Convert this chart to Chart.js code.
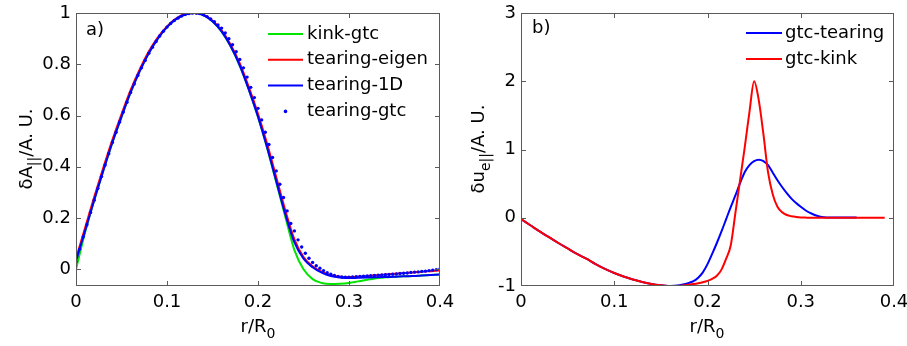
<!DOCTYPE html>
<html>
<head>
<meta charset="utf-8">
<title>δA|| and δue|| profiles</title>
<script src="https://cdn.jsdelivr.net/npm/chart.js@4.4.0/dist/chart.umd.min.js"></script>
<style>
  body { margin: 0; background: #fff; }
  #wrap { position: relative; width: 907px; height: 346px; overflow: hidden; background: #fff; }
  .panel { position: absolute; top: 0; height: 346px; }
  #panelA { left: 0; width: 470px; }
  #panelB { left: 453px; width: 454px; }
</style>
</head>
<body>
<div id="wrap">
  <div class="panel" id="panelA"><canvas id="chartA"></canvas></div>
  <div class="panel" id="panelB"><canvas id="chartB"></canvas></div>
</div>
<script>
// panel a) - radial grid of the line curves
const rLine = [0, 0.01, 0.02, 0.03, 0.04, 0.05, 0.06, 0.07, 0.08, 0.09,
  0.10, 0.11, 0.12, 0.13, 0.14, 0.15, 0.16, 0.17, 0.18, 0.19,
  0.20, 0.21, 0.22, 0.23, 0.24, 0.25, 0.26, 0.27, 0.28, 0.29,
  0.30, 0.31, 0.32, 0.33, 0.34, 0.35, 0.36, 0.37, 0.38, 0.39, 0.40];

const kinkGtc = [0.0, 0.145, 0.27, 0.385, 0.495, 0.595, 0.69, 0.774, 0.845, 0.902,
  0.946, 0.977, 0.995, 1.0, 0.992, 0.967, 0.927, 0.869, 0.794, 0.70,
  0.594, 0.473, 0.34, 0.205, 0.075, 0.0, -0.038, -0.053, -0.057, -0.056,
  -0.053, -0.047, -0.041, -0.035, -0.031, -0.029, -0.027, -0.026, -0.024, -0.022, -0.02];

const tearingEigen = [0.042, 0.162, 0.282, 0.396, 0.505, 0.605, 0.699, 0.78, 0.85, 0.905,
  0.948, 0.978, 0.996, 1.0, 0.993, 0.970, 0.932, 0.876, 0.803, 0.71,
  0.607, 0.49, 0.36, 0.23, 0.117, 0.048, 0.012, -0.010, -0.023, -0.029,
  -0.030, -0.029, -0.026, -0.023, -0.020, -0.017, -0.014, -0.012, -0.009, -0.007, -0.005];

const tearing1D = [0.032, 0.15, 0.27, 0.385, 0.495, 0.595, 0.69, 0.772, 0.843, 0.90,
  0.945, 0.976, 0.994, 1.0, 0.992, 0.968, 0.928, 0.87, 0.795, 0.70,
  0.595, 0.475, 0.345, 0.215, 0.105, 0.042, 0.008, -0.013, -0.026, -0.032,
  -0.034, -0.033, -0.032, -0.031, -0.030, -0.029, -0.027, -0.026, -0.024, -0.022, -0.02];

// gtc points (dots)
const rDot = [0, 0.004, 0.008, 0.012, 0.016, 0.020, 0.024, 0.028, 0.032, 0.036,
  0.040, 0.044, 0.048, 0.052, 0.056, 0.060, 0.064, 0.068, 0.072, 0.076,
  0.080, 0.084, 0.088, 0.092, 0.096, 0.100, 0.104, 0.108, 0.112, 0.116,
  0.120, 0.124, 0.128, 0.132, 0.136, 0.140, 0.144, 0.148, 0.152, 0.156,
  0.160, 0.164, 0.168, 0.172, 0.176, 0.180, 0.184, 0.188, 0.192, 0.196,
  0.200, 0.204, 0.208, 0.212, 0.216, 0.220, 0.224, 0.228, 0.232, 0.236,
  0.240, 0.244, 0.248, 0.252, 0.256, 0.260, 0.264, 0.268, 0.272, 0.276,
  0.280, 0.284, 0.288, 0.292, 0.296, 0.300, 0.304, 0.308, 0.312, 0.316,
  0.320, 0.324, 0.328, 0.332, 0.336, 0.340, 0.344, 0.348, 0.352, 0.356,
  0.360, 0.364, 0.368, 0.372, 0.376, 0.380, 0.384, 0.388, 0.392, 0.396, 0.400];

const tearingGtc = [0.03, 0.079, 0.127, 0.174, 0.222, 0.27, 0.316, 0.362, 0.407, 0.451,
  0.495, 0.535, 0.575, 0.614, 0.652, 0.69, 0.723, 0.756, 0.786, 0.815,
  0.843, 0.866, 0.889, 0.91, 0.929, 0.945, 0.959, 0.971, 0.98, 0.988,
  0.994, 0.998, 1.0, 1.0, 0.998, 0.993, 0.986, 0.977, 0.966, 0.953,
  0.941, 0.922, 0.90, 0.876, 0.849, 0.819, 0.786, 0.75, 0.71, 0.67,
  0.628, 0.583, 0.535, 0.487, 0.436, 0.384, 0.332, 0.28, 0.228, 0.179,
  0.15, 0.115, 0.087, 0.063, 0.043, 0.027, 0.014, 0.004, -0.005, -0.013,
  -0.019, -0.024, -0.028, -0.030, -0.031, -0.031, -0.030, -0.029, -0.028, -0.027,
  -0.026, -0.025, -0.024, -0.023, -0.022, -0.021, -0.020, -0.019, -0.018, -0.016,
  -0.015, -0.014, -0.012, -0.011, -0.010, -0.008, -0.007, -0.005, -0.003, -0.001, 0.002];

// panel b)
const rB = [0, 0.01, 0.02, 0.03, 0.04, 0.05, 0.06, 0.07, 0.08, 0.09,
  0.10, 0.11, 0.12, 0.13, 0.14, 0.15,
  0.155, 0.16, 0.165, 0.17, 0.175, 0.18, 0.185, 0.19, 0.195, 0.20,
  0.205, 0.21, 0.215, 0.22, 0.225, 0.23, 0.235, 0.24, 0.245, 0.25,
  0.255, 0.26, 0.265, 0.27, 0.275, 0.28, 0.285, 0.29, 0.295, 0.30,
  0.305, 0.31, 0.315, 0.32, 0.325, 0.33,
  0.34, 0.35, 0.36, 0.37, 0.38, 0.39];

const gtcTearing = [-0.02, -0.11, -0.20, -0.285, -0.37, -0.45, -0.53, -0.60, -0.68, -0.75,
  -0.81, -0.86, -0.905, -0.94, -0.97, -0.99,
  -0.997, -1.0, -0.998, -0.99, -0.975, -0.955, -0.93, -0.88, -0.80, -0.68,
  -0.53, -0.37, -0.20, -0.02, 0.16, 0.33, 0.51, 0.67, 0.77, 0.83,
  0.85, 0.83, 0.77, 0.66, 0.55, 0.45, 0.36, 0.28, 0.215, 0.16,
  0.11, 0.07, 0.04, 0.02, 0.008, 0.004,
  0.004, 0.004, 0.004, null, null, null];

const gtcKink = [-0.02, -0.11, -0.20, -0.285, -0.37, -0.45, -0.53, -0.60, -0.68, -0.75,
  -0.81, -0.86, -0.905, -0.94, -0.97, -0.99,
  -0.997, -1.0, -1.0, -0.997, -0.99, -0.982, -0.972, -0.96, -0.945, -0.925,
  -0.895, -0.85, -0.76, -0.60, -0.40, 0.08, 0.56, 1.04, 1.55, 2.0,
  1.72, 1.22, 0.66, 0.34, 0.16, 0.08, 0.04, 0.022, 0.012, 0.005,
  0.002, 0.0, 0.0, 0.0, 0.0, 0.0,
  0.0, 0.0, 0.0, 0.0, 0.0, 0.0];

const xTicks = [0, 0.1, 0.2, 0.3, 0.4];

const GREEN = 'rgb(0,230,0)';
const RED = 'rgb(255,0,0)';
const BLUE = 'rgb(0,0,255)';
const FRAME = '#5a5a5a';
const FONT = '"DejaVu Sans", sans-serif';

Chart.defaults.font.family = FONT;
Chart.defaults.font.size = 18;
Chart.defaults.color = '#000';

const pts = (xs, ys) => xs.map((x, i) => ({ x: x, y: ys[i] }));

const lineSet = (label, xs, ys, color, order) => ({
  label: label,
  data: pts(xs, ys),
  borderColor: color,
  backgroundColor: color,
  borderWidth: 2,
  pointRadius: 0,
  cubicInterpolationMode: 'monotone',
  spanGaps: false,
  order: order
});

// box + inward ticks on all four sides, like matlab axes
const frameTicks = {
  id: 'frameTicks',
  afterDatasetsDraw(chart) {
    const ctx = chart.ctx;
    const a = chart.chartArea;
    const x = chart.scales.x;
    const y = chart.scales.y;
    const len = 5;
    ctx.save();
    ctx.strokeStyle = FRAME;
    ctx.lineWidth = 1;
    ctx.strokeRect(Math.round(a.left) + 0.5, Math.round(a.top) + 0.5,
      Math.round(a.right - a.left) - 1, Math.round(a.bottom - a.top) - 1);
    ctx.beginPath();
    x.ticks.forEach(t => {
      const px = Math.round(x.getPixelForValue(t.value)) + 0.5;
      if (px < a.left + 2 || px > a.right - 2) return;
      ctx.moveTo(px, a.bottom); ctx.lineTo(px, a.bottom - len);
      ctx.moveTo(px, a.top); ctx.lineTo(px, a.top + len);
    });
    y.ticks.forEach(t => {
      const py = Math.round(y.getPixelForValue(t.value)) + 0.5;
      if (py < a.top + 2 || py > a.bottom - 2) return;
      ctx.moveTo(a.left, py); ctx.lineTo(a.left + len, py);
      ctx.moveTo(a.right, py); ctx.lineTo(a.right - len, py);
    });
    ctx.stroke();
    ctx.restore();
  }
};

// text made of normal and subscript parts, centred on 0
const drawParts = (ctx, parts) => {
  const widths = parts.map(p => {
    ctx.font = (p[1] ? '14px ' : '18px ') + FONT;
    return ctx.measureText(p[0]).width;
  });
  let cx = -widths.reduce((s, w) => s + w, 0) / 2;
  parts.forEach((p, i) => {
    ctx.font = (p[1] ? '14px ' : '18px ') + FONT;
    ctx.fillText(p[0], cx, p[1] ? 6 : 0);
    cx += widths[i];
  });
};

// panel tag, legend inside the axes and axis titles
const decor = {
  id: 'decor',
  afterDraw(chart, args, o) {
    const ctx = chart.ctx;
    ctx.save();
    ctx.fillStyle = '#000';
    ctx.textAlign = 'left';
    ctx.textBaseline = 'alphabetic';
    ctx.font = '18px ' + FONT;
    ctx.fillText(o.tag[0], o.tag[1], o.tag[2]);

    // legend
    o.legend.forEach((idx, i) => {
      const ds = chart.data.datasets[idx];
      const y = o.legY + i * o.legGap;
      if (ds.showLine === false) {
        ctx.fillStyle = ds.pointBackgroundColor;
        ctx.beginPath();
        ctx.arc((o.legX1 + o.legX2) / 2, y, 1.8, 0, Math.PI * 2);
        ctx.fill();
      } else {
        ctx.strokeStyle = ds.borderColor;
        ctx.lineWidth = 2;
        ctx.beginPath();
        ctx.moveTo(o.legX1, y);
        ctx.lineTo(o.legX2, y);
        ctx.stroke();
      }
      ctx.fillStyle = '#000';
      ctx.font = '18px ' + FONT;
      ctx.textBaseline = 'middle';
      ctx.fillText(ds.label, o.legText, y);
      ctx.textBaseline = 'alphabetic';
    });

    // x title
    ctx.save();
    ctx.translate(o.xTitle[0], o.xTitle[1]);
    drawParts(ctx, o.xParts);
    ctx.restore();

    // y title, rotated
    ctx.save();
    ctx.translate(o.yTitle[0], o.yTitle[1]);
    ctx.rotate(-Math.PI / 2);
    drawParts(ctx, o.yParts);
    ctx.restore();

    ctx.restore();
  }
};

const fmt = v => String(+v.toFixed(2));

const makeOptions = (yMin, yMax, yStep, yWidth, padRight, decorOpts) => ({
  responsive: true,
  maintainAspectRatio: false,
  animation: false,
  events: [],
  layout: { padding: { left: 0, top: 13, right: padRight, bottom: 0 } },
  plugins: {
    legend: { display: false },
    tooltip: { enabled: false },
    decor: decorOpts
  },
  scales: {
    x: {
      type: 'linear',
      min: 0,
      max: 0.4,
      grid: { display: false, drawTicks: false },
      border: { display: false },
      afterBuildTicks: s => { s.ticks = xTicks.map(v => ({ value: v })); },
      ticks: { padding: 6, maxRotation: 0, autoSkip: false, callback: fmt },
      afterFit: s => { s.height = 60; s.paddingLeft = 0; s.paddingRight = 0; }
    },
    y: {
      min: yMin,
      max: yMax,
      grid: { display: false, drawTicks: false },
      border: { display: false },
      ticks: { stepSize: yStep, includeBounds: false, padding: 5, callback: fmt },
      afterFit: s => { s.width = yWidth; s.paddingTop = 0; s.paddingBottom = 0; }
    }
  }
});

// panel a)
new Chart(document.getElementById('chartA'), {
  type: 'line',
  data: {
    datasets: [
      lineSet('kink-gtc', rLine, kinkGtc, GREEN, 3),
      lineSet('tearing-eigen', rLine, tearingEigen, RED, 2),
      lineSet('tearing-1D', rLine, tearing1D, BLUE, 1),
      {
        label: 'tearing-gtc',
        data: pts(rDot, tearingGtc),
        showLine: false,
        pointRadius: 1.7,
        pointBorderWidth: 0,
        pointBackgroundColor: BLUE,
        borderColor: BLUE,
        order: 0
      }
    ]
  },
  options: makeOptions(-0.065, 1, 0.2, 76, 30, {
    tag: ['a)', 86, 35],
    legend: [0, 1, 2, 3],
    legX1: 268, legX2: 303, legText: 307, legY: 34, legGap: 25.8,
    xTitle: [258, 332],
    xParts: [['r/R', false], ['0', true]],
    yTitle: [32, 149],
    yParts: [['δA', false], ['||', true], ['/A. U.', false]]
  }),
  plugins: [frameTicks, decor]
});

// panel b)
new Chart(document.getElementById('chartB'), {
  type: 'line',
  data: {
    datasets: [
      lineSet('gtc-tearing', rB, gtcTearing, BLUE, 1),
      lineSet('gtc-kink', rB, gtcKink, RED, 0)
    ]
  },
  options: makeOptions(-1, 3, 1, 68, 13, {
    tag: ['b)', 79, 33],
    legend: [0, 1],
    legX1: 293, legX2: 329, legText: 332, legY: 33, legGap: 26,
    xTitle: [254, 332],
    xParts: [['r/R', false], ['0', true]],
    yTitle: [31, 149],
    yParts: [['δu', false], ['e||', true], ['/A. U.', false]]
  }),
  plugins: [frameTicks, decor]
});
</script>
</body>
</html>
